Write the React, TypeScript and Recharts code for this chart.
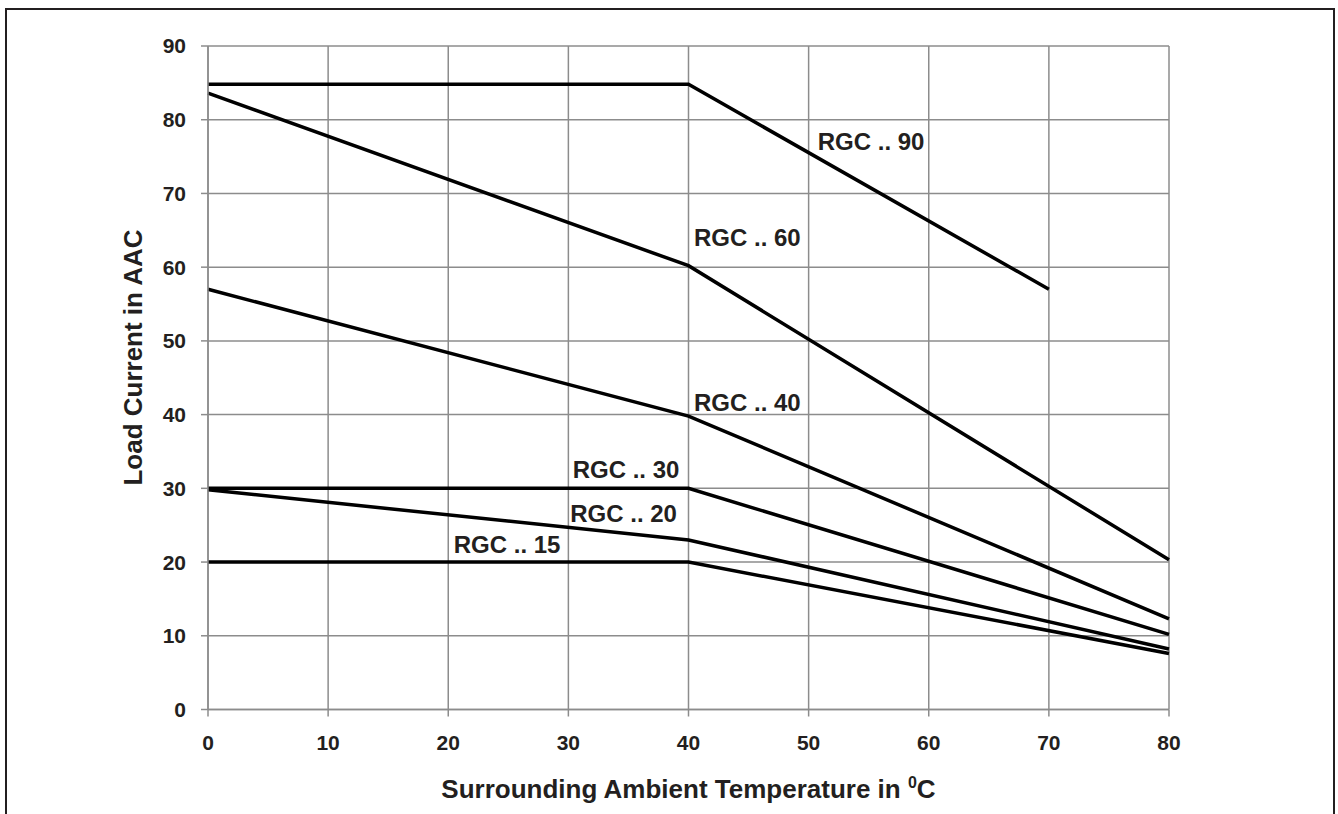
import React from 'react';
import {
  LineChart,
  Line,
  XAxis,
  YAxis,
  CartesianGrid,
  ReferenceDot,
  Label,
} from 'recharts';

// ── Data ─────────────────────────────────────────────────────────────────────

const X_TICKS = [0, 10, 20, 30, 40, 50, 60, 70, 80];
const Y_TICKS = [0, 10, 20, 30, 40, 50, 60, 70, 80, 90];

const RGC90 = [
  { x: 0, y: 84.8 },
  { x: 40, y: 84.8 },
  { x: 70, y: 57.0 },
];
const RGC60 = [
  { x: 0, y: 83.6 },
  { x: 40, y: 60.2 },
  { x: 80, y: 20.3 },
];
const RGC40 = [
  { x: 0, y: 57.0 },
  { x: 40, y: 39.8 },
  { x: 80, y: 12.3 },
];
const RGC30 = [
  { x: 0, y: 30.0 },
  { x: 40, y: 30.0 },
  { x: 80, y: 10.2 },
];
const RGC20 = [
  { x: 0, y: 29.8 },
  { x: 40, y: 23.0 },
  { x: 80, y: 8.2 },
];
const RGC15 = [
  { x: 0, y: 20.0 },
  { x: 40, y: 20.0 },
  { x: 80, y: 7.6 },
];

const SERIES = [
  { name: 'RGC .. 90', data: RGC90 },
  { name: 'RGC .. 60', data: RGC60 },
  { name: 'RGC .. 40', data: RGC40 },
  { name: 'RGC .. 30', data: RGC30 },
  { name: 'RGC .. 20', data: RGC20 },
  { name: 'RGC .. 15', data: RGC15 },
];

// where each curve name sits (data units, text centre)
const LABELS = [
  { text: 'RGC .. 90', x: 55.2, y: 77.0 },
  { text: 'RGC .. 60', x: 44.9, y: 64.0 },
  { text: 'RGC .. 40', x: 44.9, y: 41.7 },
  { text: 'RGC .. 30', x: 34.8, y: 32.6 },
  { text: 'RGC .. 20', x: 34.6, y: 26.6 },
  { text: 'RGC .. 15', x: 24.9, y: 22.4 },
];

// ── Styles ───────────────────────────────────────────────────────────────────

const FONT = '"Liberation Sans", Arial, Helvetica, sans-serif';
const INK = '#231f20';
const GRID = '#8c8c8c';

function XTitle(props: any) {
  const { x, y, width } = props.viewBox;
  return (
    <text
      x={x + width / 2}
      y={y + 88.5}
      textAnchor="middle"
      fontFamily={FONT}
      fontWeight="bold"
      fontSize={26}
      fill={INK}
    >
      Surrounding Ambient Temperature in{' '}
      <tspan dy={-10} fontSize={16}>
        0
      </tspan>
      <tspan dy={10}>C</tspan>
    </text>
  );
}

function YTitle() {
  const cx = 142;
  const cy = 357.5;
  return (
    <text
      x={cx}
      y={cy}
      textAnchor="middle"
      transform={`rotate(-90, ${cx}, ${cy})`}
      fontFamily={FONT}
      fontWeight="bold"
      fontSize={26}
      fill={INK}
    >
      Load Current in AAC
    </text>
  );
}

export default function App() {
  return (
    <div
      style={{
        position: 'fixed',
        left: 0,
        top: 0,
        width: 1338,
        height: 814,
        background: '#fff',
        overflow: 'hidden',
      }}
    >
      {/* open-bottom frame around the figure */}
      <div
        style={{
          position: 'absolute',
          left: 5,
          top: 8,
          width: 1326,
          height: 830,
          borderLeft: `2px solid ${INK}`,
          borderTop: `2px solid ${INK}`,
          borderRight: `2px solid ${INK}`,
        }}
      />
      <div style={{ position: 'absolute', left: 0, top: 0 }}>
        <LineChart
          width={1338}
          height={814}
          margin={{ top: 46, right: 169, left: 0, bottom: 0 }}
        >
          <CartesianGrid stroke={GRID} strokeWidth={1.5} />
          <XAxis
            type="number"
            dataKey="x"
            domain={[0, 80]}
            ticks={X_TICKS}
            height={104.5}
            stroke={GRID}
            strokeWidth={1.5}
            tickSize={7}
            tickMargin={19}
            tick={{ fontSize: 21, fontFamily: FONT, fontWeight: 'bold', fill: INK }}
            allowDuplicatedCategory={false}
          >
            <Label content={XTitle} />
          </XAxis>
          <YAxis
            type="number"
            domain={[0, 90]}
            ticks={Y_TICKS}
            width={208}
            stroke={GRID}
            strokeWidth={1.5}
            tickSize={7}
            tickMargin={15}
            tick={{ fontSize: 21, fontFamily: FONT, fontWeight: 'bold', fill: INK }}
          >
            <Label content={YTitle} />
          </YAxis>

          {SERIES.map((s) => (
            <Line
              key={s.name}
              data={s.data}
              dataKey="y"
              type="linear"
              stroke="#000"
              strokeWidth={3.5}
              dot={false}
              activeDot={false}
              isAnimationActive={false}
            />
          ))}

          {LABELS.map((l) => (
            <ReferenceDot
              key={l.text}
              x={l.x}
              y={l.y}
              r={0}
              fill="none"
              stroke="none"
              label={{
                value: l.text,
                position: 'center',
                fontSize: 24,
                fontFamily: FONT,
                fontWeight: 'bold',
                fill: INK,
              }}
            />
          ))}
        </LineChart>
      </div>
    </div>
  );
}
